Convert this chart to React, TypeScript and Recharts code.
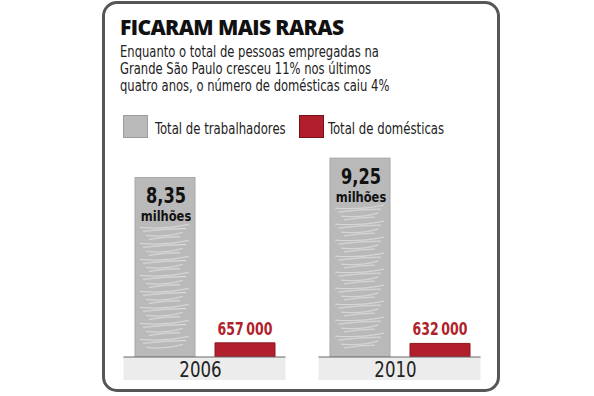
import React from "react";
import { BarChart, Bar, XAxis, YAxis, LabelList } from "recharts";

const years = ["2006", "2010"];
const trabalhadores = [8.35, 9.25]; // milhões
const domesticas = [657000, 632000];

const data = years.map((year, i) => ({
  year,
  trabalhadores: trabalhadores[i],
  domesticas: domesticas[i] / 1e6,
  domesticasRaw: domesticas[i],
}));

const GRAY = "#b9b9ba";
const RED = "#b11f2c";
const NARROW = "'Liberation Sans Narrow', 'DejaVu Sans Condensed', 'Liberation Sans', sans-serif";

// squeezed svg text, centred on cx
const Squeezed = ({ cx, y, sx = 0.82, children, ...rest }: any) => (
  <text transform={`translate(${cx},${y}) scale(${sx},1)`} textAnchor="middle" fontFamily={NARROW} {...rest}>
    {children}
  </text>
);

const ScribbleBar = (props: any) => {
  const { x, y, width, height } = props;
  const lines = [];
  const top = y + 50;
  for (let yy = top, k = 0; yy < y + height - 6; yy += 4, k++) {
    const off = (k % 4) * 3;
    const tilt = k % 2 ? -3 : 2;
    lines.push(
      <path
        key={k}
        d={`M${x + 5 + off} ${yy} Q${x + width / 2} ${yy + tilt} ${x + width - 6 - off} ${yy - 3}`}
        stroke="#fff"
        strokeOpacity={0.4}
        strokeWidth={1.3}
        fill="none"
      />
    );
  }
  return (
    <g>
      <rect x={x} y={y} width={width} height={height} fill={GRAY} stroke="#a8a8a8" strokeWidth={1} />
      {lines}
    </g>
  );
};

const MillionsLabel = (props: any) => {
  const { x, y, width, value } = props;
  const cx = x + width / 2;
  return (
    <g fontWeight={700} fill="#111">
      <Squeezed cx={cx + 1} y={y + 26} sx={0.88} fontSize={20.5}>
        {String(value).replace(".", ",")}
      </Squeezed>
      <Squeezed cx={cx + 1} y={y + 44} sx={0.88} fontSize={14.5}>
        milhões
      </Squeezed>
    </g>
  );
};

const RedLabel = (props: any) => {
  const { x, y, width, value } = props;
  const txt = Number(value).toLocaleString("fr-FR").replace(/\s/g, "\u2009");
  return (
    <Squeezed cx={x + width / 2} y={y - 8} sx={0.82} fontSize={17} fontWeight={700} fill={RED}>
      {txt}
    </Squeezed>
  );
};

const YearTick = (props: any) => {
  const { x, y, payload } = props;
  return (
    <g>
      <rect x={x - 81} y={y} width={162} height={23} fill="#ececec" />
      <line x1={x - 81} x2={x + 81} y1={y} y2={y} stroke="#666" strokeWidth={1.2} />
      <Squeezed cx={x - 4} y={y + 20} sx={0.84} fontSize={22} fill="#222">
        {payload.value}
      </Squeezed>
    </g>
  );
};

const squeeze = (sx: number): React.CSSProperties => ({
  transform: `scaleX(${sx})`,
  transformOrigin: "0 0",
  whiteSpace: "nowrap",
});

export default function App() {
  return (
    <div style={{ position: "absolute", left: 0, top: 0, width: 594, height: 396, background: "#fff" }}>
      <div
        style={{
          position: "absolute",
          left: 102,
          top: 1,
          width: 398,
          height: 391,
          boxSizing: "border-box",
          border: "3.5px solid #565656",
          borderRadius: 15,
        }}
      />
      <div
        style={{
          position: "absolute",
          left: 120,
          top: 13,
          fontFamily: "'Open Sans', 'Liberation Sans', sans-serif",
          fontWeight: 800,
          fontSize: 21,
          color: "#111",
          letterSpacing: -0.6,
          whiteSpace: "nowrap",
        }}
      >
        FICARAM MAIS RARAS
      </div>
      <div
        style={{
          position: "absolute",
          left: 120,
          top: 44,
          fontFamily: NARROW,
          fontSize: 15.5,
          lineHeight: "17px",
          color: "#222",
          ...squeeze(0.83),
        }}
      >
        Enquanto o total de pessoas empregadas na
        <br />
        Grande São Paulo cresceu 11% nos últimos
        <br />
        quatro anos, o número de domésticas caiu 4%
      </div>
      {/* legend */}
      <div style={{ position: "absolute", left: 123, top: 115, width: 25, height: 23, boxSizing: "border-box", background: GRAY, border: "1.5px solid #9c9c9c" }} />
      <div style={{ position: "absolute", left: 155, top: 120, fontFamily: NARROW, fontSize: 15.5, color: "#222", ...squeeze(0.84) }}>
        Total de trabalhadores
      </div>
      <div style={{ position: "absolute", left: 299, top: 115, width: 25, height: 23, boxSizing: "border-box", background: RED, border: "1.5px solid #7a1018" }} />
      <div style={{ position: "absolute", left: 328, top: 120, fontFamily: NARROW, fontSize: 15.5, color: "#222", ...squeeze(0.84) }}>
        Total de domésticas
      </div>
      <BarChart
        width={594}
        height={396}
        data={data}
        margin={{ top: 142, right: 97, left: 107, bottom: 0 }}
        barSize={60}
        barGap={20}
        style={{ position: "absolute", left: 0, top: 0 }}
      >
        <YAxis hide domain={[0, 10]} />
        <XAxis
          dataKey="year"
          height={39}
          axisLine={false}
          tickLine={false}
          tickSize={0}
          tickMargin={0}
          tick={<YearTick />}
          interval={0}
        />
        <Bar dataKey="trabalhadores" fill={GRAY} shape={<ScribbleBar />} isAnimationActive={false}>
          <LabelList dataKey="trabalhadores" content={<MillionsLabel />} />
        </Bar>
        <Bar dataKey="domesticas" fill={RED} stroke="#8e1620" isAnimationActive={false}>
          <LabelList dataKey="domesticasRaw" content={<RedLabel />} />
        </Bar>
      </BarChart>
    </div>
  );
}
